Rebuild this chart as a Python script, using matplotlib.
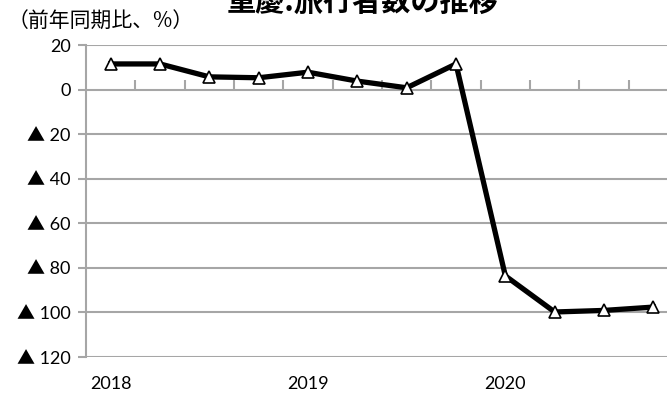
import matplotlib
matplotlib.use("Agg")
import matplotlib.pyplot as plt
from matplotlib.ticker import FixedLocator, FuncFormatter

plt.rcParams['font.family'] = ['Lato', 'Noto Sans CJK JP', 'DejaVu Sans']

# Quarterly year-on-year change in traveller numbers, 2018Q1 - 2020Q4
quarters = ['2018Q1', '2018Q2', '2018Q3', '2018Q4',
            '2019Q1', '2019Q2', '2019Q3', '2019Q4',
            '2020Q1', '2020Q2', '2020Q3', '2020Q4']
yoy_change = [11.5, 11.5, 5.7, 5.3, 7.8, 3.8, 0.8, 11.5,
              -83.6, -99.8, -99.1, -97.6]
year_labels = ['2018', '2019', '2020']
y_ticks = [20, 0, -20, -40, -60, -80, -100, -120]

W, H = 667, 394
fig = plt.figure(figsize=(W / 100, H / 100), dpi=100)
ax = fig.add_axes([86 / W, 37 / H, 592 / W, 312 / H])

x = list(range(len(quarters)))
grid_col = '#a6a6a6'

ax.set_xlim(-0.5, len(quarters) - 0.5)
ax.set_ylim(-120, 20)

# horizontal gridlines
for v in y_ticks:
    if v != 0:
        ax.axhline(v, color=grid_col, lw=1.5, zorder=1)

for s in ['top', 'right']:
    ax.spines[s].set_visible(False)
ax.spines['left'].set_color(grid_col)
ax.spines['left'].set_linewidth(1.5)
ax.spines['bottom'].set_position(('data', 0))
ax.spines['bottom'].set_color(grid_col)
ax.spines['bottom'].set_linewidth(1.5)

# category separators on the zero line
ax.xaxis.set_major_locator(FixedLocator([i + 0.5 for i in x[:-1]]))
ax.tick_params(axis='x', direction='in', length=7, width=1.5,
               color=grid_col, labelbottom=False)

ax.yaxis.set_major_locator(FixedLocator(y_ticks))
ax.yaxis.set_major_formatter(FuncFormatter(
    lambda v, p: f'▲ {abs(int(v))}' if v < 0 else f'{int(v)}'))
ax.tick_params(axis='y', direction='out', length=6, width=1.5,
               color=grid_col, labelsize=13, pad=5)
for lbl in ax.get_yticklabels():
    lbl.set_family(['Lato', 'Noto Sans CJK JP'])

ax.plot(x, yoy_change, color='black', lw=3.8, marker='^', ms=9,
        mfc='white', mec='black', mew=1.2, zorder=3, clip_on=False)

# year labels under the first quarter of each year
for k, yl in enumerate(year_labels):
    ax.annotate(yl, xy=(x[4 * k], -120), xytext=(0, -14),
                textcoords='offset points', ha='center', va='top',
                fontsize=13)

fig.text(8 / W, 1 - 22 / H, '（前年同期比、%）', fontsize=15,
         family=['Noto Sans CJK JP'], va='center', ha='left')
fig.text(363 / W, 1 - 11 / H, '重慶:旅行者数の推移', fontsize=21,
         fontweight='bold', family=['Noto Sans CJK JP'],
         va='baseline', ha='center')

fig.savefig('out.png', dpi=100)
